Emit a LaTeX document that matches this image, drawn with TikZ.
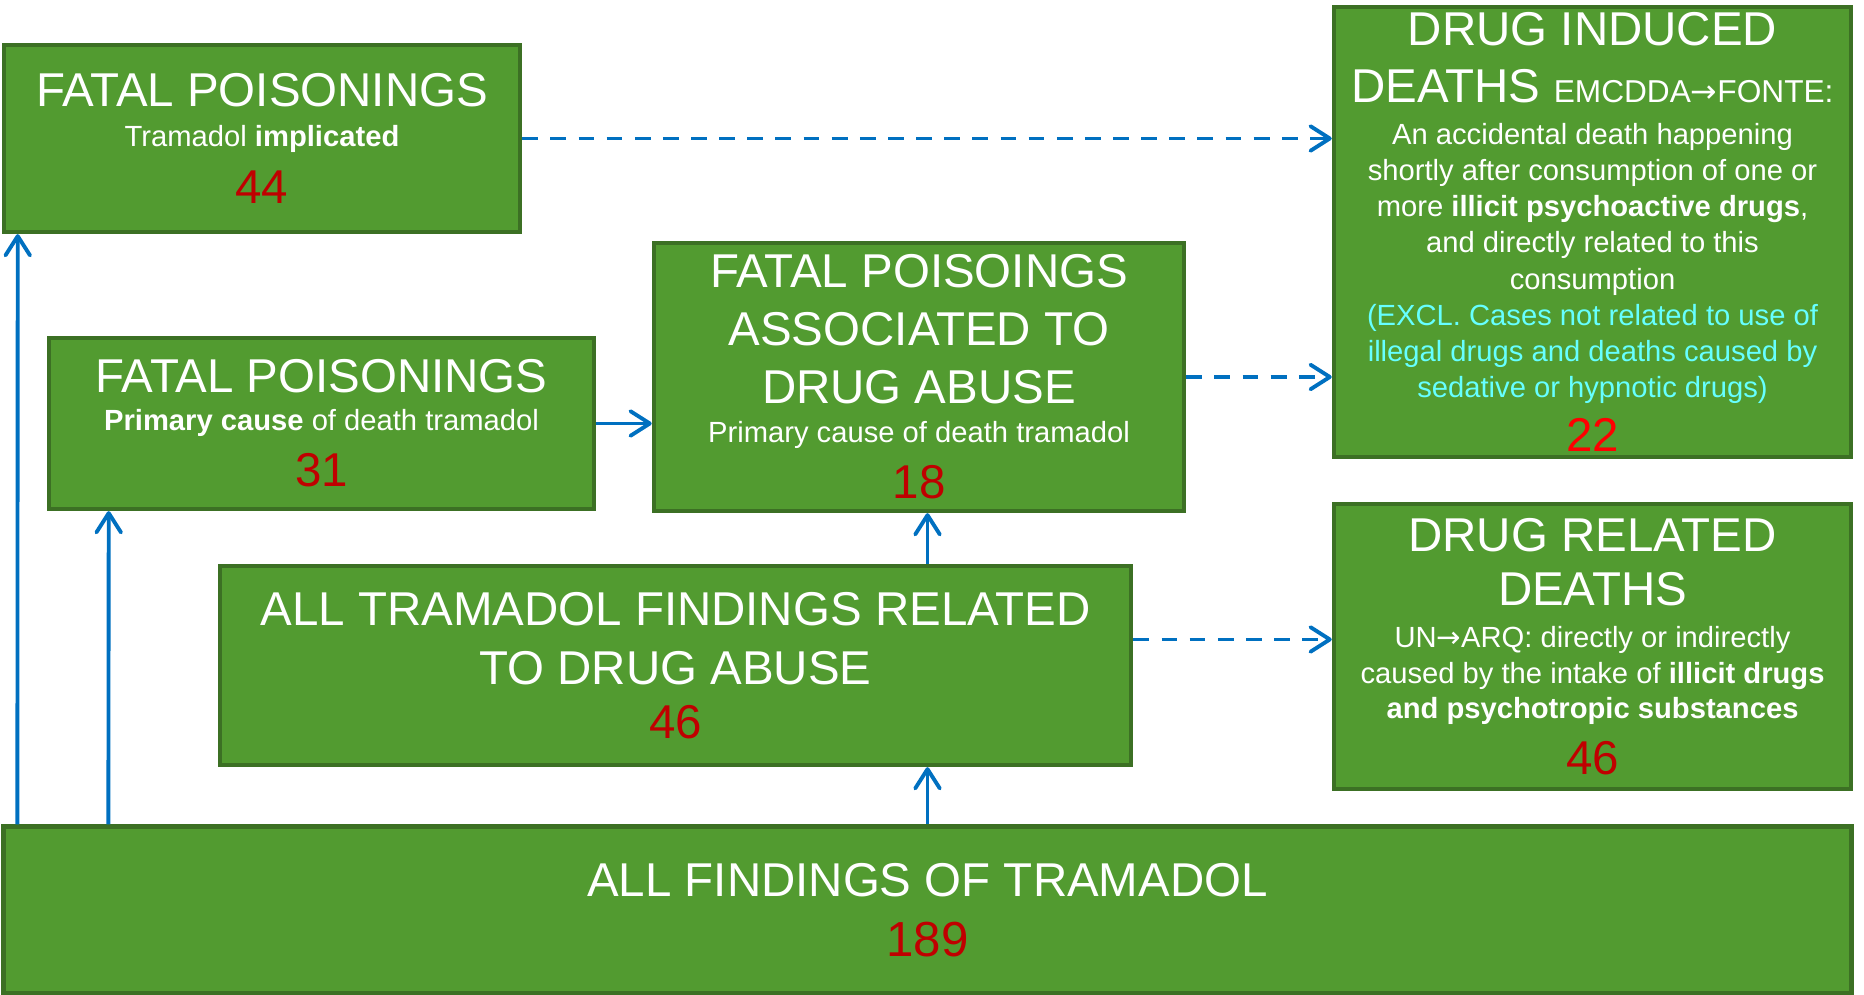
\documentclass[tikz,border=0pt]{standalone}
\usepackage{fontspec}
\setmainfont{Liberation Sans}
\newfontfamily\symf{DejaVu Sans}
\usetikzlibrary{arrows.meta,calc}
\definecolor{boxg}{HTML}{529B30}
\definecolor{boxd}{HTML}{3C7024}
\definecolor{arrb}{HTML}{0070C0}
\definecolor{numr}{HTML}{C00000}
\definecolor{excl}{HTML}{66FFFF}
\newcommand{\titlef}{\fontsize{13.5}{16.4}\selectfont}
\newcommand{\bodyf}{\fontsize{8.3}{10.3}\selectfont}
\newcommand{\cnt}[2][numr]{{\fontsize{13.5}{15.4}\selectfont\color{#1}#2\par}}
\newcommand{\rarr}{{\symf →}}

\begin{document}
\begin{tikzpicture}[x=0.01cm,y=-0.01cm,
	box/.style={draw=boxd,fill=boxg,line width=1.2pt,text=white,align=flush center,inner sep=0pt},
	arr/.style={draw=arrb,line width=1.1pt,-{Straight Barb[length=5.5pt,width=7pt,round]}},
	dsh/.style={arr,dash pattern=on 4.5pt off 3.5pt}]
	\useasboundingbox (0,0) rectangle (1864,995);

	% boxes, centre at pixel position
	\node[box,minimum width=5.16cm,minimum height=1.87cm,text width=5cm] (fpimp) at (262,138.5)
		{{\titlef FATAL POISONINGS\par}\vspace{1pt}{\bodyf Tramadol \textbf{implicated}\par}\vspace{1pt}\cnt{44}};
	\node[box,minimum width=5.45cm,minimum height=1.71cm,text width=5.3cm] (fpprim) at (321.5,423.5)
		{{\titlef FATAL POISONINGS\par}\vspace{0.5pt}{\bodyf\textbf{Primary cause} of death tramadol\par}\vspace{0.5pt}\cnt{31}};
	\node[box,minimum width=5.30cm,minimum height=2.68cm,text width=5.1cm] (fpabuse) at (919,377)
		{{\titlef FATAL POISOINGS\\ASSOCIATED TO\\DRUG ABUSE\par}\vspace{1pt}{\bodyf Primary cause of death tramadol\par}\vspace{0.5pt}\cnt{18}};
	\node[box,minimum width=5.17cm,minimum height=4.50cm,text width=5.05cm] (did) at (1592.5,232)
		{{\titlef DRUG INDUCED\\DEATHS {\fontsize{9}{10}\selectfont EMCDDA\rarr FONTE:}\par}\vspace{1.5pt}%
		{\bodyf An accidental death happening\\shortly after consumption of one or\\more \textbf{illicit psychoactive drugs},\\and directly related to this\\consumption\par}%
		{\bodyf\color{excl}(EXCL. Cases not related to use of\\illegal drugs and deaths caused by\\sedative or hypnotic drugs)\par}\cnt[red]{22}};
	\node[box,minimum width=9.11cm,minimum height=1.99cm,text width=8.9cm] (allabuse) at (675.5,665.5)
		{{\fontsize{13.5}{16.8}\selectfont ALL TRAMADOL FINDINGS RELATED\\TO DRUG ABUSE\par}\cnt{46}};
	\node[box,minimum width=5.17cm,minimum height=2.85cm,text width=5.05cm] (drd) at (1592.5,646.5)
		{{\fontsize{13.5}{15.4}\selectfont DRUG RELATED\\DEATHS\par}\vspace{2pt}%
		{\fontsize{8.3}{10.1}\selectfont UN\rarr ARQ: directly or indirectly\\caused by the intake of \textbf{illicit drugs}\\\textbf{and psychotropic substances}\par}\vspace{0.5pt}\cnt{46}};
	\node[box,minimum width=18.47cm,minimum height=1.67cm,text width=18cm] (allfind) at (927.5,910)
		{{\titlef ALL FINDINGS OF TRAMADOL\par}\vspace{1pt}{\fontsize{14}{16}\selectfont\color{numr}189\par}};

	% arrows
	\draw[arr] ($(allfind.north west)+(16,0)$) -- ($(fpimp.south west)+(16,0)$);
	\draw[arr] ($(allfind.north west)+(107,0)$) -- ($(fpprim.south west)+(62,0)$);
	\draw[arr] (allfind.north) -- (allfind.north |- allabuse.south);
	\draw[arr] (allfind.north |- allabuse.north) -- (allfind.north |- fpabuse.south);
	\draw[arr] (fpprim.east) -- (fpprim.east -| fpabuse.west);
	\draw[dsh] (fpimp.east) -- (fpimp.east -| did.west); %虚线箭头
	\draw[dsh] (fpabuse.east) -- (fpabuse.east -| did.west);
	\draw[dsh] ([yshift=2pt]drd.west -| allabuse.east) -- ([yshift=2pt]drd.west);
\end{tikzpicture}
\end{document}
